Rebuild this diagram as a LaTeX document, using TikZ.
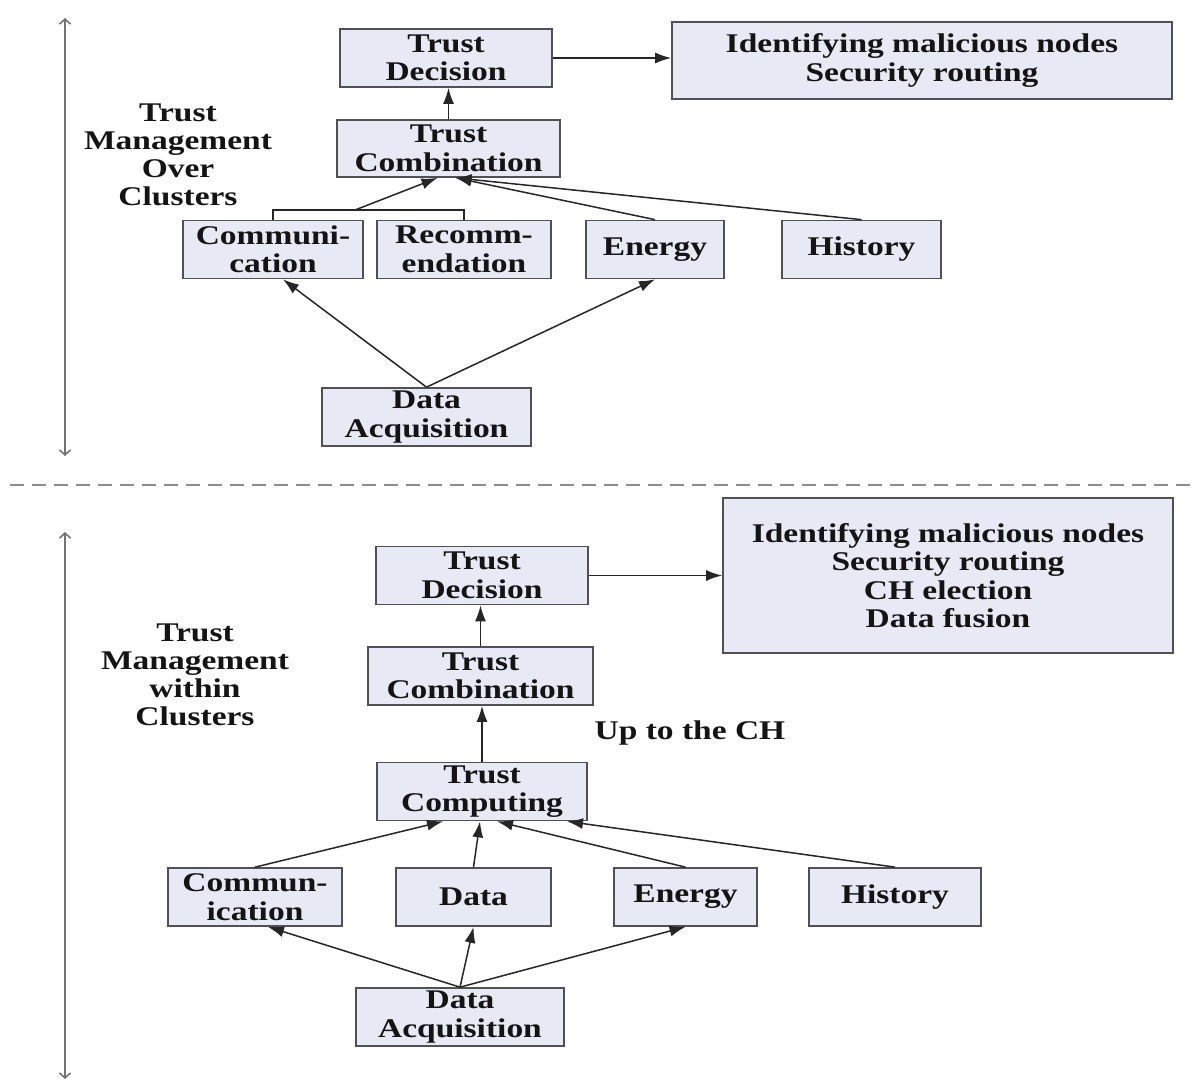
\documentclass[tikz,border=0pt]{standalone}
\usepackage{fontspec}
\setmainfont[FakeStretch=1.24]{Liberation Serif}
\usetikzlibrary{arrows.meta}
\definecolor{fondboite}{HTML}{E7EAF5}
\definecolor{bordboite}{HTML}{505055}

\begin{document}
\begin{tikzpicture}[x=1pt,y=-1pt]
  \tikzstyle{lien}=[-{Latex[length=16pt,width=11pt]},line width=1.5pt,black!85]
\tikzset{boite/.style={draw=bordboite,line width=1.7pt,fill=fondboite,
minimum width=#1,minimum height=58pt,inner sep=0pt,align=center,
text=black!92,font=\fontsize{27}{28.5}\selectfont\bfseries},
boite/.default={160pt},
etiquette/.style={align=center,text=black!92,font=\fontsize{27}{28}\selectfont\bfseries},
echelle/.style={{Straight Barb[length=5pt,width=11pt]}-{Straight Barb[length=5pt,width=11pt]},line width=1.6pt,black!55},
separation/.style={dash pattern=on 14pt off 8pt,line width=1.6pt,black!45}}
\useasboundingbox (0,0) rectangle (1198,1082);

% en haut : gestion sur les clusters
\node[boite=212pt] (td1) at (446,58) {Trust\\Decision};
\node[boite=223pt,minimum height=57pt] (tc1) at (448.5,148.5) {Trust\\Combination};
\node[boite=500pt,minimum height=77pt] (out1) at (922,60.5) {Identifying malicious nodes\\Security routing};
\node[boite=180pt] (com1) at (273,249.5) {Communi-\\cation};
\node[boite=174pt] (rec1) at (464,249.5) {Recomm-\\endation};
\node[boite=138pt] (ene1) at (655,249.5) {Energy};
\node[boite=159pt] (his1) at (861.5,249.5) {History};
\node[boite=209pt] (da1) at (426.5,417) {Data\\Acquisition};
\node[etiquette] (lab1) at (178,155) {Trust\\Management\\Over\\Clusters};

\coordinate (h1) at (65,18);
\coordinate (b1) at (65,456);
\draw[echelle] (h1) -- (b1);

\coordinate (crochet) at (355,210);
\draw[line width=1.5pt,black!85] (com1.north) -- (com1.north |- crochet) -- (rec1.north |- crochet) -- (rec1.north);
\draw[lien] (crochet) -- ([xshift=-11]tc1.south);
\draw[lien] (ene1.north) -- ([xshift=7]tc1.south);
\draw[lien] (his1.north) -- ([xshift=7]tc1.south);
\draw[lien] (tc1.north) -- (tc1.north |- td1.south);
\draw[lien] (td1.east) -- (td1.east -| out1.west);
\draw[lien] (da1.north) -- ([xshift=10]com1.south);
\draw[lien] (da1.north) -- (ene1.south);

% separation
\coordinate (g) at (10,485);
\coordinate (d) at (1198,485);
\draw[separation] (g) -- (d);

% en bas : gestion dans les clusters
\node[boite=212pt] (td2) at (482,575.5) {Trust\\Decision};
\node[boite=450pt,minimum height=155pt] (out2) at (948,575.5) {Identifying malicious nodes\\Security routing\\CH election\\Data fusion};
\node[boite=225pt] (tc2) at (480.5,676) {Trust\\Combination};
\node[boite=210pt] (tcomp2) at (482,791.5) {Trust\\Computing};
\node[boite=174pt] (com2) at (255,897) {Commun-\\ication};
\node[boite=155pt] (dat2) at (473.5,897) {Data};
\node[boite=143pt] (ene2) at (685.5,897) {Energy};
\node[boite=172pt] (his2) at (895,897) {History};
\node[boite=208pt] (da2) at (460,1017) {Data\\Acquisition};
\node[etiquette] (lab2) at (195,675) {Trust\\Management\\within\\Clusters};
\node[etiquette] (ch) at (690,733) {Up to the CH};

\coordinate (h2) at (65,532);
\coordinate (b2) at (65,1079);
\draw[echelle] (h2) -- (b2);

\draw[lien] (td2.east) -- (td2.east -| out2.west);
\draw[lien] (tc2.north) -- (tc2.north |- td2.south);
\draw[lien] (tcomp2.north) -- (tcomp2.north |- tc2.south);
\draw[lien] (com2.north) -- ([xshift=-39]tcomp2.south);
\draw[lien] (dat2.north) -- ([xshift=-2]tcomp2.south);
\draw[lien] (ene2.north) -- ([xshift=15]tcomp2.south);
\draw[lien] (his2.north) -- ([xshift=85]tcomp2.south);
\draw[lien] (da2.north) -- ([xshift=13]com2.south);
\draw[lien] (da2.north) -- (dat2.south);
\draw[lien] (da2.north) -- (ene2.south);

\end{tikzpicture}
\end{document}
